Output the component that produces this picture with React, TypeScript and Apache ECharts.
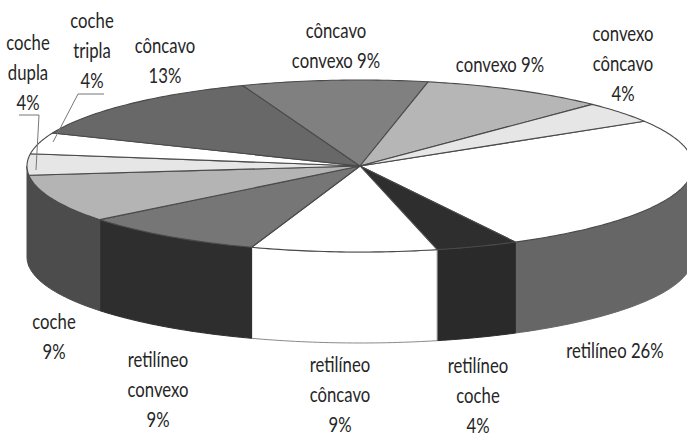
import React, { useEffect, useRef } from "react";
import * as echarts from "echarts";

// Shapes of the windscreen profiles and their share, in percent, clockwise from the right rim.
const names = [
  "retilíneo",
  "retilíneo\ncoche",
  "retilíneo\ncôncavo",
  "retilíneo\nconvexo",
  "coche",
  "coche\ndupla",
  "coche\ntripla",
  "côncavo",
  "côncavo\nconvexo",
  "convexo",
  "convexo\ncôncavo",
];
const values = [26, 4, 9, 9, 9, 4, 4, 13, 9, 9, 4];
const separators = [" ", "\n", "\n", "\n", "\n", "\n", "\n", "\n", " ", " ", "\n"];

const topColors = ["#ffffff", "#2e2e2e", "#ffffff", "#767676", "#b4b4b4", "#e6e6e6", "#ffffff", "#686868", "#808080", "#b6b6b6", "#e6e6e6"];
const wallColors = ["#666666", "#2a2a2a", "#ffffff", "#2e2e2e", "#4c4c4c", "#4c4c4c", "#4c4c4c", "#666666", "#7f7f7f", "#b4b4b4", "#e6e6e6"];

// Anchor of each label block: centre x and the y of its first line.
const labelX = [615, 478, 340, 158, 54, 28, 92, 165, 336, 500, 623];
const labelY = [350, 365, 364, 359, 321, 42, 20, 45, 30, 64, 33];
const LINE_STEP = 30;

const CX = 360;
const CY = 166;
const RX = 333;
const RY = 86;
const DEPTH = 91;
const START_ANGLE = -31.4;

const rad = (d: number) => (d * Math.PI) / 180;
const total = values.reduce((a, b) => a + b, 0);

function sliceRange(index: number): [number, number] {
  const before = values.slice(0, index).reduce((a, b) => a + b, 0);
  return [
    START_ANGLE + (before / total) * 360,
    START_ANGLE + ((before + values[index]) / total) * 360,
  ];
}

function rim(from: number, to: number, dy = 0): number[][] {
  const steps = Math.max(2, Math.ceil(Math.abs(to - from)));
  const pts: number[][] = [];
  for (let i = 0; i <= steps; i++) {
    const t = rad(from + ((to - from) * i) / steps);
    pts.push([CX + RX * Math.cos(t), CY + RY * Math.sin(t) + dy]);
  }
  return pts;
}

function renderTop(params: any) {
  const i = params.dataIndex;
  const [a, b] = sliceRange(i);
  return {
    type: "polygon",
    shape: { points: [[CX, CY], ...rim(a, b)] },
    style: { fill: topColors[i], stroke: "#4a4a4a", lineWidth: 1.1, lineJoin: "round" },
  };
}

function renderWall(params: any) {
  const i = params.dataIndex;
  const [a, b] = sliceRange(i);
  // Only the front half of the drum faces the viewer.
  const from = Math.max(a, 0);
  const to = Math.min(b, 180);
  if (to <= from) return { type: "group", children: [] };
  const white = wallColors[i] === "#ffffff";
  return {
    type: "polygon",
    shape: { points: [...rim(from, to), ...rim(to, from, DEPTH)] },
    style: {
      fill: wallColors[i],
      stroke: white ? "#8a8a8a" : wallColors[i],
      lineWidth: 1,
    },
  };
}

const labelFont = {
  fontFamily: "Lato, 'Open Sans', sans-serif",
  fontSize: 22,
  lineHeight: 22,
  fill: "#262626",
  align: "center" as const,
  verticalAlign: "middle" as const,
};

function labelElements() {
  const out: any[] = [];
  names.forEach((name, i) => {
    const lines = `${name}${separators[i]}${values[i]}%`.split("\n");
    lines.forEach((line, k) => {
      out.push({
        type: "text",
        x: labelX[i],
        y: labelY[i] + k * LINE_STEP,
        scaleX: 0.76,
        z: 5,
        style: { ...labelFont, text: line },
      });
    });
  });
  return out;
}

export default function App() {
  const ref = useRef<HTMLDivElement>(null);

  useEffect(() => {
    const chart = echarts.init(ref.current!, null, { renderer: "svg" });
    const data = values.map((v) => [v]);
    chart.setOption({
      animation: false,
      backgroundColor: "#ffffff",
      series: [
        { type: "custom", coordinateSystem: "none", z: 1, silent: true, renderItem: renderWall, data },
        { type: "custom", coordinateSystem: "none", z: 2, silent: true, renderItem: renderTop, data },
      ],
      graphic: [
        ...labelElements(),
        {
          type: "polyline",
          z: 6,
          shape: { points: [[53, 142], [78, 94], [104, 94]] },
          style: { stroke: "#777777", lineWidth: 1, fill: "none" },
        },
        {
          type: "polyline",
          z: 6,
          shape: { points: [[36, 170], [39, 115], [19, 115]] },
          style: { stroke: "#777777", lineWidth: 1, fill: "none" },
        },
      ],
    });
    return () => chart.dispose();
  }, []);

  return <div ref={ref} style={{ position: "absolute", left: 0, top: 0, width: 687, height: 438 }} />;
}
